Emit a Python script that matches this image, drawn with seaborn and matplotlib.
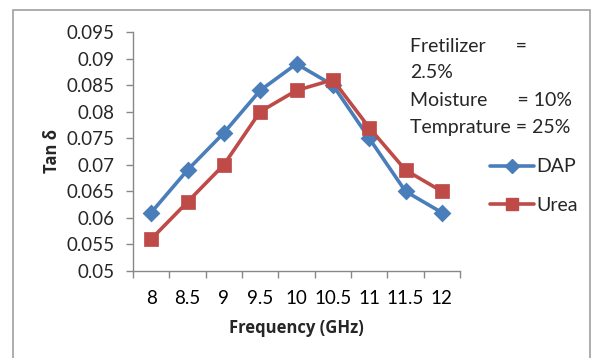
import matplotlib
matplotlib.use("Agg")
import matplotlib.pyplot as plt
import seaborn as sns
import pandas as pd
import numpy as np
from matplotlib.patches import Rectangle
from matplotlib.lines import Line2D

frequency = ["8", "8.5", "9", "9.5", "10", "10.5", "11", "11.5", "12"]
dap = [0.061, 0.069, 0.076, 0.084, 0.089, 0.085, 0.075, 0.065, 0.061]
urea = [0.056, 0.063, 0.070, 0.080, 0.084, 0.086, 0.077, 0.069, 0.065]
y_ticks = [0.05, 0.055, 0.06, 0.065, 0.07, 0.075, 0.08, 0.085, 0.09, 0.095]
y_tick_labels = ["0.05", "0.055", "0.06", "0.065", "0.07", "0.075", "0.08", "0.085", "0.09", "0.095"]

df = pd.DataFrame({
    "Frequency": frequency * 2,
    "Tan": dap + urea,
    "Series": ["DAP"] * len(dap) + ["Urea"] * len(urea),
})

sns.set_theme(style="white")
plt.rcParams["font.family"] = ["Lato", "DejaVu Sans"]

fig = plt.figure(figsize=(5.94, 3.58), dpi=100)
ax = fig.add_axes([133 / 594, 1 - 271 / 358, (460 - 133) / 594, (271 - 32) / 358])

blue = "#4A7EBB"
red = "#BE4B48"
sns.pointplot(data=df, x="Frequency", y="Tan", hue="Series", order=frequency,
              palette={"DAP": blue, "Urea": red}, markers=["D", "s"],
              linestyles=["-", "-"], ax=ax, legend=False,
              markersize=8, linewidth=2.6)
for line in ax.lines:
    if line.get_marker() == "D":
        line.set_markersize(7.5)
    elif line.get_marker() == "s":
        line.set_markersize(9)

ax.set_xlim(-0.5, len(frequency) - 0.5)
ax.set_ylim(0.05, 0.095)
ax.set_yticks(y_ticks)
ax.set_yticklabels(y_tick_labels)
ax.set_xticks(range(len(frequency)))
ax.set_xticklabels(frequency)
ax.set_xticks(np.arange(-0.5, len(frequency), 1.0), minor=True)
ax.tick_params(axis="x", which="major", length=0, pad=14, labelsize=13.5, colors="black")
ax.tick_params(axis="x", which="minor", length=5, width=1, color="#888888", bottom=True)
ax.tick_params(axis="y", length=5, width=1, color="#888888", left=True, labelsize=13.5, pad=8)
for s in ["top", "right"]:
    ax.spines[s].set_visible(False)
for s in ["left", "bottom"]:
    ax.spines[s].set_color("#888888")
    ax.spines[s].set_linewidth(1)
bold_font = ["Open Sans", "DejaVu Sans"]
ax.set_xlabel("Frequency (GHz)", fontsize=12, fontweight="bold", labelpad=8, family=bold_font)
ax.set_ylabel("Tan δ", fontsize=12, fontweight="bold", labelpad=4, family=bold_font)
ax.grid(False)

fig.patches.append(Rectangle((13 / 594, -0.05), (590 - 13) / 594, 1 - 10 / 358 + 0.05,
                             transform=fig.transFigure, fill=False,
                             edgecolor="#A0A0A0", linewidth=1.2))

fs = 14
fig.text(410 / 594, 1 - 47 / 358, "Fretilizer      =", fontsize=fs, va="center", ha="left")
fig.text(410 / 594, 1 - 73 / 358, "2.5%", fontsize=fs, va="center", ha="left")
fig.text(410 / 594, 1 - 100 / 358, "Moisture      = 10%", fontsize=fs, va="center", ha="left")
fig.text(410 / 594, 1 - 127 / 358, "Temprature = 25%", fontsize=fs, va="center", ha="left")

handles = [Line2D([], [], color=blue, marker="D", markersize=7.5, linewidth=2.6),
           Line2D([], [], color=red, marker="s", markersize=9, linewidth=2.6)]
fig.legend(handles, ["DAP", "Urea"], loc="center left",
           bbox_to_anchor=(472 / 594, 1 - 186 / 358), frameon=False,
           fontsize=fs, handlelength=2.3, labelspacing=1.1, handletextpad=0.1)

fig.savefig("out.png", dpi=100)
